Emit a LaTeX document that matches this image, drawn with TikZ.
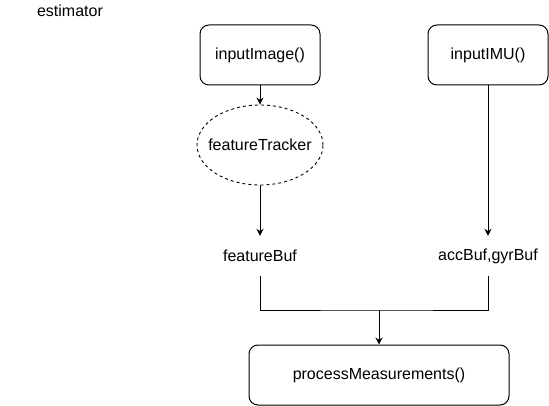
\documentclass[tikz,border=0pt]{standalone}
\usepackage{fontspec}
\setmainfont{Liberation Sans}
\usetikzlibrary{shapes.geometric,arrows.meta}
\begin{document}
\begin{tikzpicture}[x=1pt,y=-1pt,
  every node/.style={font=\fontsize{16}{19}\selectfont},
  box/.style={draw,line width=1pt,rounded corners=9pt,minimum width=120pt,minimum height=60pt,inner sep=0pt},
  bigbox/.style={box,minimum width=260pt},
  oval/.style={draw,dashed,line width=0.9pt,ellipse,minimum width=126pt,minimum height=80pt,inner xsep=-15pt,inner ysep=0pt},
  lbl/.style={minimum height=40pt,inner sep=0pt},
  conn/.style={line width=1pt},
  arr/.style={conn,-{Stealth[length=7pt,width=7pt]}}]
\useasboundingbox (0,0) rectangle (549,406);
\node (est) at (70,11) {estimator};
\node[box] (img) at (260,55) {inputImage()};
\node[box] (imu) at (488,55) {inputIMU()};
\node[oval] (ft) at (260,145) {featureTracker};
\node[lbl] (fb) at (260,256) {featureBuf};
\node[lbl] (ab) at (488,256) {accBuf,gyrBuf};
\node[bigbox] (pm) at (379,375) {processMeasurements()};
\coordinate (j) at (379,310);
\draw[arr] (img) -- (ft);
\draw[arr] (ft) -- (fb);
\draw[arr] (imu) -- (ab);
\draw[conn] (fb.south) |- (j) -| (ab.south);
\draw[arr] (j) -- (pm);
\end{tikzpicture}
\end{document}
